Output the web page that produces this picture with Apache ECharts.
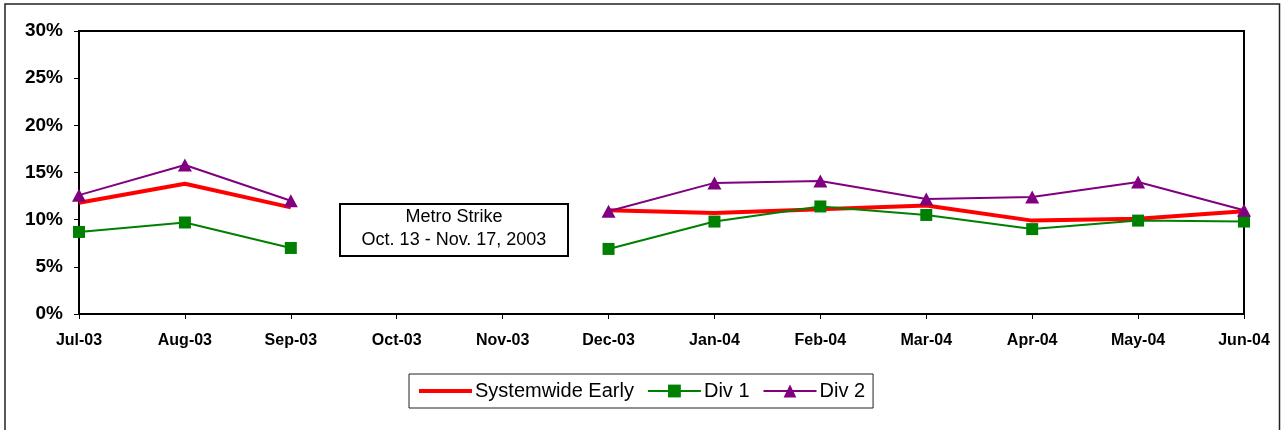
<!DOCTYPE html>
<html>
<head>
<meta charset="utf-8">
<script src="https://cdn.jsdelivr.net/npm/echarts@6/dist/echarts.min.js"></script>
<style>
  html, body { margin: 0; padding: 0; background: #fff; }
  #chart { width: 1281px; height: 430px; }
</style>
</head>
<body>
<div id="chart"></div>
<script>
// Monthly early-arrival rates (percent); Oct/Nov 2003 have no data (strike)
const months = ['Jul-03', 'Aug-03', 'Sep-03', 'Oct-03', 'Nov-03', 'Dec-03',
                'Jan-04', 'Feb-04', 'Mar-04', 'Apr-04', 'May-04', 'Jun-04'];
const systemwideEarly = [11.8, 13.8, 11.3, null, null, 11.0, 10.7, 11.1, 11.5, 9.9, 10.1, 10.9];
const div1 = [8.7, 9.7, 7.0, null, null, 6.9, 9.8, 11.4, 10.5, 9.0, 9.9, 9.8];
const div2 = [12.6, 15.8, 12.0, null, null, 10.9, 13.9, 14.1, 12.2, 12.4, 14.0, 11.0];
const seriesNames = ['Systemwide Early', 'Div 1', 'Div 2'];
const yTicks = { min: 0, max: 30, step: 5 };
const noteLines = ['Metro Strike', 'Oct. 13 - Nov. 17, 2003'];

const FONT = 'Arial, "Liberation Sans", Helvetica, sans-serif';
const chart = echarts.init(document.getElementById('chart'), null, { renderer: 'canvas' });

chart.setOption({
  backgroundColor: '#ffffff',
  animation: false,
  grid: {
    left: 79, right: 37, top: 31, height: 283,
    show: true, borderColor: '#000', borderWidth: 2, backgroundColor: 'transparent'
  },
  legend: {
    // the systemwide line has no marker, so its legend symbol is hidden
    data: [
      { name: seriesNames[0], itemStyle: { opacity: 0 }, lineStyle: { width: 4 } },
      { name: seriesNames[1] },
      { name: seriesNames[2] }
    ],
    left: 409, top: 374,
    padding: [7, 8, 7, 8],
    itemGap: 13,
    itemWidth: 53,
    itemHeight: 16,
    borderColor: '#222', borderWidth: 1, backgroundColor: '#fff',
    textStyle: { fontFamily: FONT, fontSize: 20, color: '#000', padding: [3, 0, 0, -2] }
  },
  xAxis: {
    type: 'category',
    data: months,
    boundaryGap: false,
    axisLine: { lineStyle: { color: '#000', width: 2 } },
    axisTick: { show: true, length: 5, lineStyle: { color: '#000', width: 1 } },
    axisLabel: { fontFamily: FONT, fontSize: 16, fontWeight: 'bold', color: '#000', margin: 19, interval: 0 },
    splitLine: { show: false }
  },
  yAxis: {
    type: 'value',
    min: yTicks.min, max: yTicks.max, interval: yTicks.step,
    axisLine: { show: true, lineStyle: { color: '#000', width: 2 } },
    axisTick: { show: true, length: 5, lineStyle: { color: '#000', width: 1 } },
    axisLabel: { fontFamily: FONT, fontSize: 19, fontWeight: 'bold', color: '#000', margin: 16, formatter: '{value}%' },
    splitLine: { show: false }
  },
  series: [
    {
      name: seriesNames[0], type: 'line', data: systemwideEarly,
      symbol: 'none', connectNulls: false,
      lineStyle: { color: '#ff0000', width: 4 },
      itemStyle: { color: '#ff0000' }
    },
    {
      name: seriesNames[1], type: 'line', data: div1,
      symbol: 'rect', symbolSize: 12, connectNulls: false,
      lineStyle: { color: '#008000', width: 2 },
      itemStyle: { color: '#008000' }
    },
    {
      name: seriesNames[2], type: 'line', data: div2,
      symbol: 'triangle', symbolSize: [14, 13], connectNulls: false,
      lineStyle: { color: '#800080', width: 2 },
      itemStyle: { color: '#800080' }
    }
  ],
  graphic: [
    {
      type: 'rect', silent: true, z: -1,
      shape: { x: 5, y: 4, width: 1274.5, height: 440 },
      style: { fill: 'none', stroke: '#222', lineWidth: 1.5 }
    },
    {
      type: 'group', left: 339, top: 203,
      children: [
        {
          type: 'rect',
          shape: { x: 0, y: 0, width: 228, height: 52 },
          style: { fill: '#fff', stroke: '#000', lineWidth: 2 }
        },
        {
          type: 'text', x: 114, y: 13,
          style: { text: noteLines[0], font: '18px ' + FONT, fill: '#000', align: 'center', verticalAlign: 'middle' }
        },
        {
          type: 'text', x: 114, y: 36,
          style: { text: noteLines[1], font: '18px ' + FONT, fill: '#000', align: 'center', verticalAlign: 'middle' }
        }
      ]
    }
  ]
});
</script>
</body>
</html>
